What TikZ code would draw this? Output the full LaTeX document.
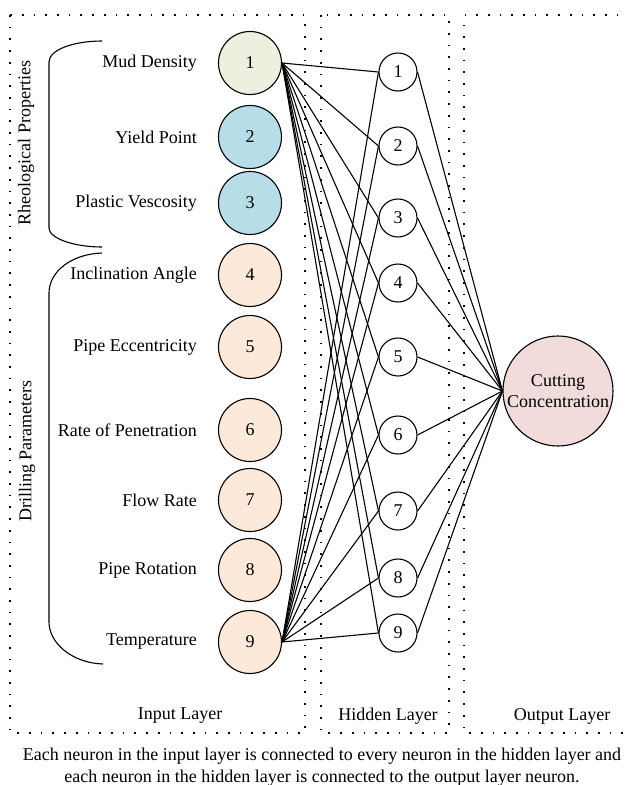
\documentclass[tikz,border=0pt]{standalone}
\usepackage{fontspec}
\setmainfont{Liberation Serif}
\definecolor{densgreen}{HTML}{EBF1DE}
\definecolor{rheoblue}{HTML}{B7DEE8}
\definecolor{drillpeach}{HTML}{FDE9D9}
\definecolor{outpink}{HTML}{F2DCDB}
\tikzset{
  txt/.style={font=\fontsize{18}{21.6}\selectfont, inner sep=0pt},
  inneuron/.style={circle, draw, line width=1.1pt, minimum size=63pt, inner sep=0pt, txt},
  hidneuron/.style={circle, draw, line width=1.1pt, minimum size=38pt, inner sep=0pt, txt},
  outneuron/.style={circle, draw, line width=1.1pt, minimum size=110pt, inner sep=0pt, fill=outpink},
  layerbox/.style={line width=1.7pt, dash pattern=on 1.7pt off 10pt},
  brace/.style={line width=1.1pt},
  link/.style={line width=1.1pt}
}
\begin{document}
\begin{tikzpicture}[x=1pt, y=-1pt]
  \useasboundingbox (0,0) rectangle (627,785);
  % layer boxes
  \draw[layerbox] (10,15) rectangle (305,733);
  \draw[layerbox] (321,15) rectangle (449,733);
  \draw[layerbox] (630,15) -- (464,15) -- (464,733) -- (630,733);
  \node[txt] (inlayer) at (180,716) {Input Layer};
  \node[txt] (hidlayer) at (388,716) {Hidden Layer};
  \node[txt] (outlayer) at (562,716) {Output Layer};

  % input layer
  \node[inneuron, fill=densgreen] (i1) at (250,63) {1};
  \node[inneuron, fill=rheoblue] (i2) at (250,137) {2};
  \node[inneuron, fill=rheoblue] (i3) at (250,203) {3};
  \node[inneuron, fill=drillpeach] (i4) at (250,275) {4};
  \node[inneuron, fill=drillpeach] (i5) at (250,347) {5};
  \node[inneuron, fill=drillpeach] (i6) at (250,430) {6};
  \node[inneuron, fill=drillpeach] (i7) at (250,500) {7};
  \node[inneuron, fill=drillpeach] (i8) at (250,570) {8};
  \node[inneuron, fill=drillpeach] (i9) at (250,642) {9};

  \node[txt, anchor=east] (l1) at (197,63) {Mud Density};
  \node[txt, anchor=east] (l2) at (197,137) {Yield Point};
  \node[txt, anchor=east] (l3) at (197,203) {Plastic Vescosity};
  \node[txt, anchor=east] (l4) at (197,275) {Inclination Angle};
  \node[txt, anchor=east] (l5) at (197,347) {Pipe Eccentricity};
  \node[txt, anchor=east] (l6) at (197,430) {Rate of Penetration};
  \node[txt, anchor=east] (l7) at (197,500) {Flow Rate};
  \node[txt, anchor=east] (l8) at (197,570) {Pipe Rotation};
  \node[txt, anchor=east] (l9) at (197,642) {Temperature};

  % groups
  \draw[brace] (102,41) .. controls (73,41) and (49,50) .. (49,62) -- (49,228)
    .. controls (49,238) and (73,247) .. (102,247);
  \draw[brace] (102,253) .. controls (71,254) and (49,272) .. (49,293) -- (49,622)
    .. controls (49,643) and (72,663) .. (103,664);
  \node[txt, rotate=90] (rheo) at (26,143) {Rheological Properties};
  \node[txt, rotate=90] (drill) at (27,451) {Drilling Parameters};

  % hidden layer
  \node[hidneuron] (h1) at (398,72) {1};
  \node[hidneuron] (h2) at (398,146) {2};
  \node[hidneuron] (h3) at (398,218) {3};
  \node[hidneuron] (h4) at (398,283) {4};
  \node[hidneuron] (h5) at (398,357) {5};
  \node[hidneuron] (h6) at (398,435) {6};
  \node[hidneuron] (h7) at (398,511) {7};
  \node[hidneuron] (h8) at (398,578) {8};
  \node[hidneuron] (h9) at (398,633) {9};

  % output layer
  \node[outneuron] (o) at (558,391) {};
  \node[txt, align=center] (otext) at (o) {Cutting\\Concentration};

  \begin{scope}[link]
    \draw (i1.east) -- (h1.west);
    \draw (i1.east) -- (h2.west);
    \draw (i1.east) -- (h3.west);
    \draw (i1.east) -- (h4.west);
    \draw (i1.east) -- (h5.west);
    \draw (i1.east) -- (h6.west);
    \draw (i1.east) -- (h7.west);
    \draw (i1.east) -- (h8.west);
    \draw (i1.east) -- (h9.west);
    \draw (i9.east) -- (h1.west);
    \draw (i9.east) -- (h2.west);
    \draw (i9.east) -- (h3.west);
    \draw (i9.east) -- (h4.west);
    \draw (i9.east) -- (h5.west);
    \draw (i9.east) -- (h6.west);
    \draw (i9.east) -- (h7.west);
    \draw (i9.east) -- (h8.west);
    \draw (i9.east) -- (h9.west);
    \draw (h1.east) -- (o.west);
    \draw (h2.east) -- (o.west);
    \draw (h3.east) -- (o.west);
    \draw (h4.east) -- (o.west);
    \draw (h5.east) -- (o.west);
    \draw (h6.east) -- (o.west);
    \draw (h7.east) -- (o.west);
    \draw (h8.east) -- (o.west);
    \draw (h9.east) -- (o.west);
  \end{scope}

  \node[txt, align=center] (caption) at (322,767)
    {Each neuron in the input layer is connected to every neuron in the hidden layer and\\
     each neuron in the hidden layer is connected to the output layer neuron.};
\end{tikzpicture}
\end{document}
